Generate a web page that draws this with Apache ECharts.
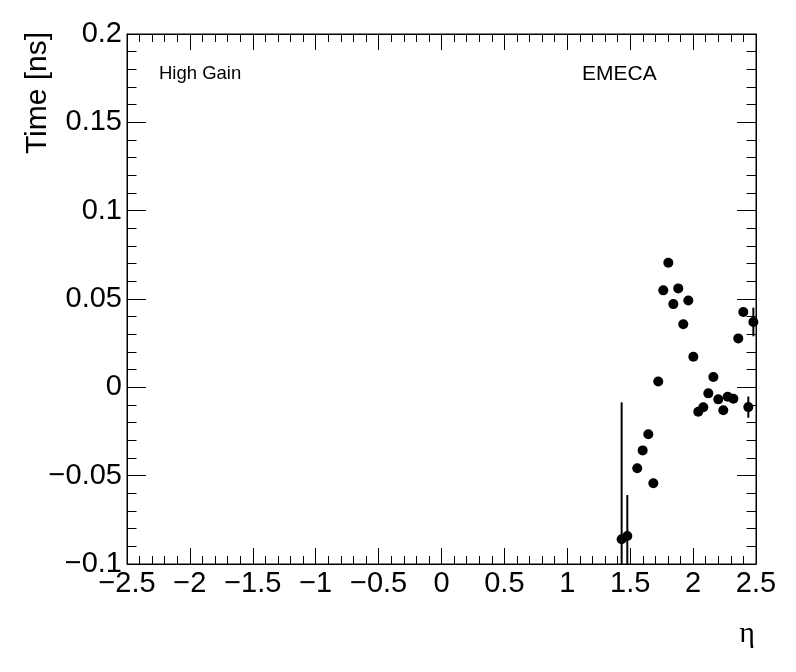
<!DOCTYPE html>
<html>
<head>
<meta charset="utf-8">
<script src="https://cdn.jsdelivr.net/npm/echarts@6/dist/echarts.min.js"></script>
<style>html,body{margin:0;padding:0;background:#fff;}#c{width:796px;height:672px;}</style>
</head>
<body>
<div id="c"></div>
<script>
// Data (eta, time [ns], error)
var etaValues  = [1.432, 1.477, 1.556, 1.599, 1.644, 1.684, 1.723, 1.763, 1.803, 1.843, 1.882, 1.922, 1.962, 2.002, 2.041, 2.081, 2.121, 2.161, 2.200, 2.240, 2.275, 2.320, 2.359, 2.399, 2.439, 2.479];
var timeValues = [-0.0860, -0.0842, -0.0458, -0.0357, -0.0266, -0.0543, 0.0033, 0.0549, 0.0705, 0.0471, 0.0560, 0.0357, 0.0492, 0.0173, -0.0138, -0.0113, -0.0034, 0.0058, -0.0068, -0.0130, -0.0053, -0.0065, 0.0277, 0.0426, -0.0112, 0.0370];
var timeErrors = [0.0775, 0.0232, 0.0015, 0.0015, 0.0015, 0.0020, 0.0015, 0.0015, 0.0015, 0.0015, 0.0015, 0.0015, 0.0015, 0.0015, 0.0015, 0.0015, 0.0015, 0.0015, 0.0015, 0.0015, 0.0015, 0.0020, 0.0020, 0.0025, 0.0060, 0.0081];
var xTicks = {min: -2.5, max: 2.5, interval: 0.5};
var yTicks = {min: -0.1, max: 0.2, interval: 0.05};
var axisTitleX = "\u03b7";
var axisTitleY = "Time [ns]";
var labelLeft = "High Gain";
var labelRight = "EMECA";

var pts = etaValues.map(function(x, i){ return [x, timeValues[i], timeErrors[i]]; });
var FONT = "'Liberation Sans', Arial, Helvetica, sans-serif";
var SERIF = "'Liberation Serif', 'DejaVu Serif', serif";
function fmt(v){ var s = String(parseFloat(v.toFixed(3))); return s.replace('-', '\u2212'); }

var chart = echarts.init(document.getElementById('c'), null, {renderer:'canvas'});
function tickBase(len, minLen){
  return {
    axisLine:{show:true, onZero:false, lineStyle:{color:'#000', width:1}},
    axisTick:{show:true, inside:true, length:len, lineStyle:{color:'#000', width:1}},
    minorTick:{show:true, splitNumber:5, length:minLen, lineStyle:{color:'#000', width:1}},
    splitLine:{show:false}, minorSplitLine:{show:false}
  };
}
var xBase = tickBase(16, 8);
var yBase = tickBase(19, 9.5);
var option = {
  animation:false,
  backgroundColor:'#fff',
  grid:{left:127, right:40, top:34, bottom:108, show:true, borderColor:'#000', borderWidth:1, backgroundColor:'transparent'},
  xAxis:[
    Object.assign({type:'value', position:'bottom', min:xTicks.min, max:xTicks.max, interval:xTicks.interval,
      axisLabel:{show:true, color:'#000', fontSize:29, fontFamily:FONT, margin:5, formatter:fmt, showMinLabel:true, showMaxLabel:true}}, xBase),
    Object.assign({type:'value', position:'top', min:xTicks.min, max:xTicks.max, interval:xTicks.interval,
      axisLabel:{show:false}}, xBase)
  ],
  yAxis:[
    Object.assign({type:'value', position:'left', min:yTicks.min, max:yTicks.max, interval:yTicks.interval,
      axisLabel:{show:true, color:'#000', fontSize:29, fontFamily:FONT, margin:5, formatter:fmt, showMinLabel:true, showMaxLabel:true}}, yBase),
    Object.assign({type:'value', position:'right', min:yTicks.min, max:yTicks.max, interval:yTicks.interval,
      axisLabel:{show:false}}, yBase)
  ],
  graphic:[
    {type:'text', x:38, y:93, rotation:Math.PI/2, style:{text:axisTitleY, fill:'#000', font:'30px '+FONT, textAlign:'center', textVerticalAlign:'middle'}},
    {type:'text', x:755, y:634, style:{text:axisTitleX, fill:'#000', font:'30px '+SERIF, textAlign:'right', textVerticalAlign:'middle'}},
    {type:'text', x:159, y:74, style:{text:labelLeft, fill:'#000', font:'18.5px '+FONT, textAlign:'left', textVerticalAlign:'middle'}},
    {type:'text', x:582, y:74, style:{text:labelRight, fill:'#000', font:'21px '+FONT, textAlign:'left', textVerticalAlign:'middle'}}
  ],
  series:[
    {type:'custom', xAxisIndex:0, yAxisIndex:0, data:pts, z:3,
      renderItem:function(params, api){
        var x = api.value(0), y = api.value(1), e = api.value(2);
        var p1 = api.coord([x, y + e]), p2 = api.coord([x, y - e]);
        var cs = params.coordSys;
        var top = cs.y, bot = cs.y + cs.height;
        var y1 = Math.max(top, Math.min(bot, p1[1]));
        var y2 = Math.max(top, Math.min(bot, p2[1]));
        return {type:'line', shape:{x1:p1[0], y1:y1, x2:p2[0], y2:y2}, style:{stroke:'#000', lineWidth:2}};
      }
    },
    {type:'scatter', xAxisIndex:0, yAxisIndex:0, data:pts.map(function(p){return [p[0], p[1]];}),
      symbol:'circle', symbolSize:10, itemStyle:{color:'#000', opacity:1}, z:4}
  ]
};
chart.setOption(option);
</script>
</body>
</html>
